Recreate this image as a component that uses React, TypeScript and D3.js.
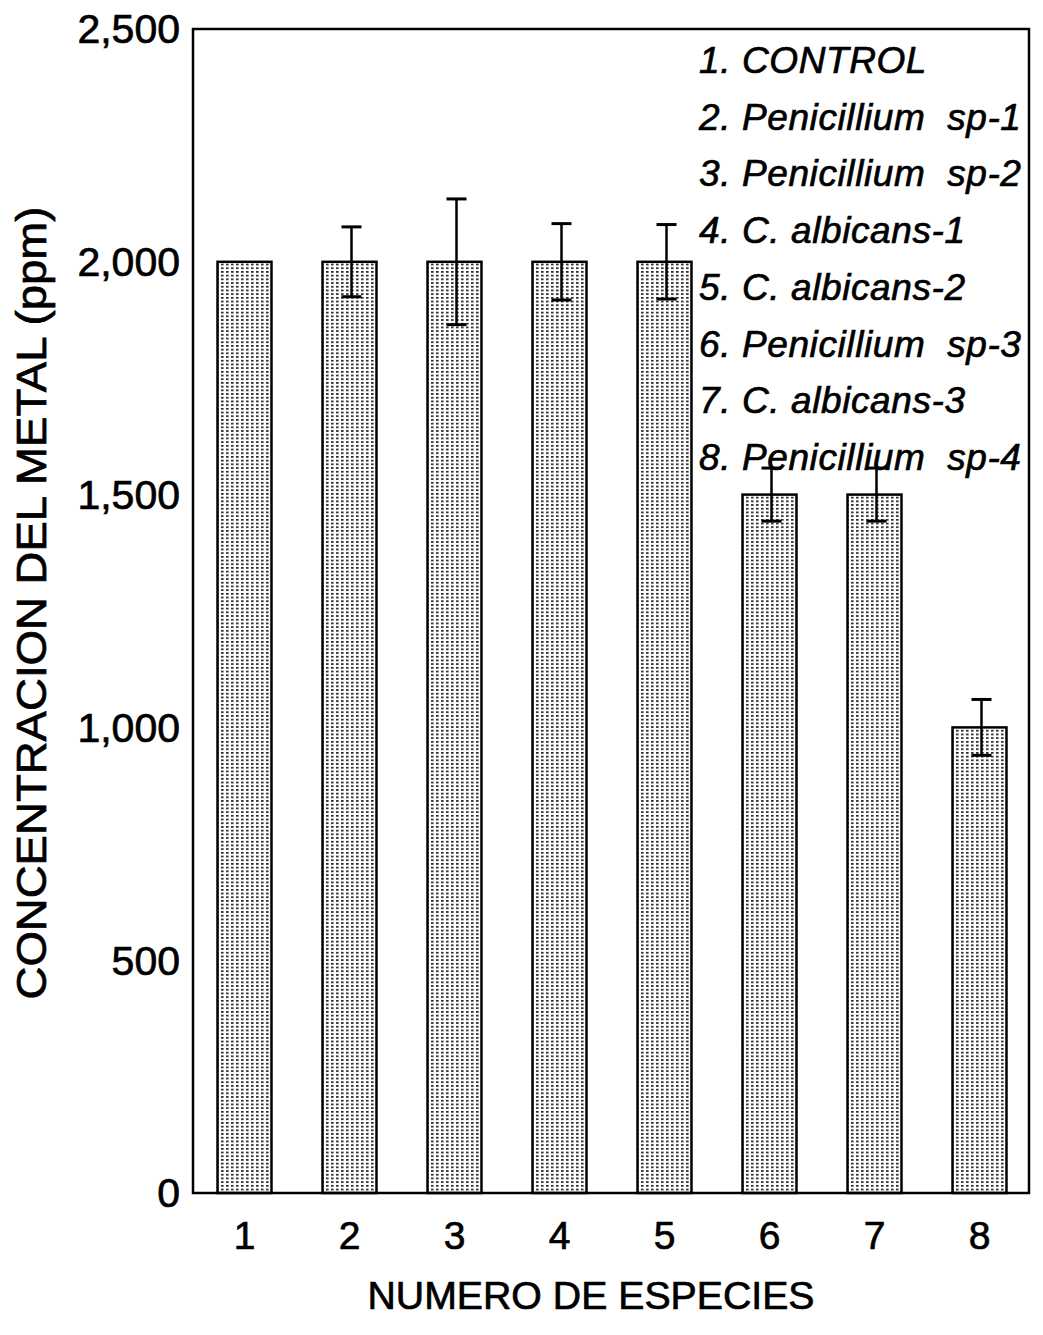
import React from "react";
import * as d3 from "d3";

// valores
const especies = ["1", "2", "3", "4", "5", "6", "7", "8"];
const concentracion = [2000, 2000, 2000, 2000, 2000, 1500, 1500, 1000];
const errores = [0, 75, 135, 82, 80, 57, 57, 60];
const yTicks = [0, 500, 1000, 1500, 2000, 2500];
const leyenda = [
  "1. CONTROL",
  "2. Penicillium  sp-1",
  "3. Penicillium  sp-2",
  "4. C. albicans-1",
  "5. C. albicans-2",
  "6. Penicillium  sp-3",
  "7. C. albicans-3",
  "8. Penicillium  sp-4",
];

const width = 1043,
  height = 1335;
const margin = { top: 29, right: 14, bottom: 142, left: 193 };
const font = "'Liberation Sans', Arial, Helvetica, sans-serif";

export default function App() {
  const x = d3
    .scaleBand<string>()
    .domain(especies)
    .range([margin.left - 1, margin.left + 839])
    .paddingInner(0.486)
    .paddingOuter(0.243);

  const y = d3
    .scaleLinear()
    .domain([0, 2500])
    .range([height - margin.bottom, margin.top]);

  const bw = x.bandwidth();
  const fmt = d3.format(",");
  const right = width - margin.right;
  const bottom = height - margin.bottom;

  // trazo fino para engrosar el texto como en el escaneo
  const grueso = { stroke: "#000", strokeWidth: 0.7 };

  return (
    <svg
      width={width}
      height={height}
      style={{ position: "absolute", left: 0, top: 0, background: "#fff" }}
    >
      <defs>
        <pattern id="puntos" width="5" height="3.7" patternUnits="userSpaceOnUse">
          <rect width="5" height="3.7" fill="#fff" />
          <rect x="1" y="1" width="2.6" height="1.6" fill="#1a1a1a" />
        </pattern>
      </defs>

      {/* barras */}
      {concentracion.map((v, i) => (
        <rect
          key={"b" + i}
          x={x(especies[i])!}
          y={y(v)}
          width={bw}
          height={y(0) - y(v)}
          fill="url(#puntos)"
          stroke="#000"
          strokeWidth={2.5}
        />
      ))}

      {/* barras de error */}
      {concentracion.map((v, i) => {
        const e = errores[i];
        if (!e) return null;
        const cx = x(especies[i])! + bw / 2 + 2;
        return (
          <g key={"e" + i} stroke="#000" strokeWidth={2.5}>
            <line x1={cx} x2={cx} y1={y(v + e)} y2={y(v - e)} />
            <line x1={cx - 10} x2={cx + 10} y1={y(v + e)} y2={y(v + e)} strokeWidth={3} />
            <line x1={cx - 10} x2={cx + 10} y1={y(v - e)} y2={y(v - e)} strokeWidth={3} />
          </g>
        );
      })}

      {/* marco */}
      <rect
        x={margin.left}
        y={margin.top}
        width={right - margin.left}
        height={bottom - margin.top}
        fill="none"
        stroke="#000"
        strokeWidth={2.5}
      />

      {/* eje y */}
      {yTicks.map((t) => (
        <text
          key={"y" + t}
          x={margin.left - 13}
          y={y(t)}
          dy="0.35em"
          textAnchor="end"
          fontFamily={font}
          fontSize={41}
          {...grueso}
        >
          {fmt(t)}
        </text>
      ))}

      {/* eje x */}
      {especies.map((s) => (
        <text
          key={"x" + s}
          x={x(s)! + bw / 2}
          y={1249}
          textAnchor="middle"
          fontFamily={font}
          fontSize={39}
          {...grueso}
        >
          {s}
        </text>
      ))}

      {/* titulos */}
      <text
        x={591}
        y={1309}
        textAnchor="middle"
        fontFamily={font}
        fontSize={38}
        textLength={447}
        lengthAdjust="spacingAndGlyphs"
        {...grueso}
      >
        NUMERO DE ESPECIES
      </text>
      <text
        transform="translate(46,603) rotate(-90)"
        textAnchor="middle"
        fontFamily={font}
        fontSize={43}
        textLength={793}
        lengthAdjust="spacingAndGlyphs"
        {...grueso}
      >
        CONCENTRACION DEL METAL (ppm)
      </text>

      {/* leyenda */}
      {leyenda.map((l, i) => (
        <text
          key={"l" + i}
          x={699}
          y={73 + i * 56.7}
          fontFamily={font}
          fontSize={37}
          fontStyle="italic"
          letterSpacing={0.6}
          style={{ whiteSpace: "pre" }}
          {...grueso}
        >
          {l}
        </text>
      ))}
    </svg>
  );
}
